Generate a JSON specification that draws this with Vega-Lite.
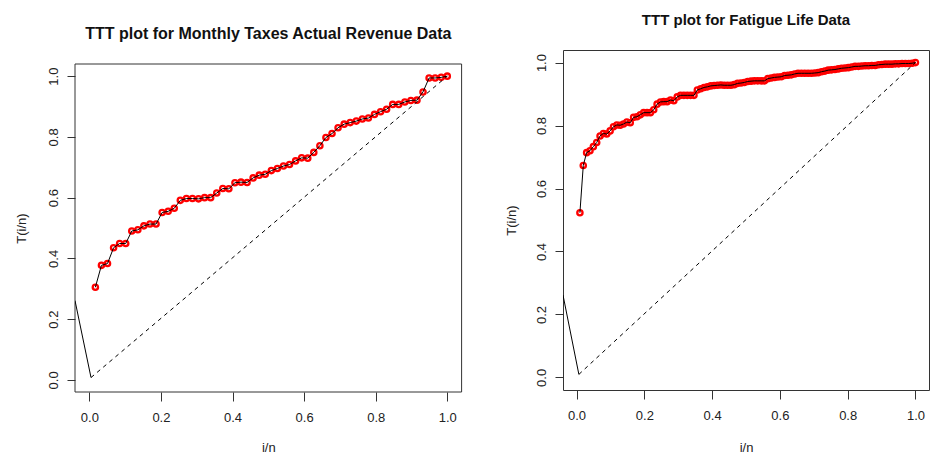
{
  "$schema": "https://vega.github.io/schema/vega-lite/v6.json",
  "padding": {"left": 15, "top": 12, "right": 0, "bottom": 0},
  "spacing": 42,
  "background": "white",
  "config": {
    "font": "Liberation Sans",
    "view": {"stroke": "#333333", "strokeWidth": 1},
    "axis": {
      "domain": false, "grid": false, "tickColor": "#333333", "tickWidth": 1,
      "labelFont": "Liberation Sans", "labelFontSize": 13, "labelColor": "#222222",
      "titleFont": "Liberation Sans", "titleFontSize": 13, "titleFontWeight": "normal", "titleColor": "#222222",
      "labelOverlap": false, "labelFlush": false
    },
    "axisX": {"tickSize": 9, "labelPadding": 10.5},
    "axisY": {"tickSize": 8, "labelPadding": 7, "labelAngle": -90, "labelAlign": "center", "labelBaseline": "bottom"},
    "title": {"font": "Liberation Sans", "fontWeight": "bold", "color": "#111111", "anchor": "middle"}
  },
  "datasets": {
    "taxes": [
      {"x": 0.0169, "y": 0.305}, {"x": 0.0339, "y": 0.377}, {"x": 0.0508, "y": 0.383}, {"x": 0.0678, "y": 0.435},
      {"x": 0.0847, "y": 0.449}, {"x": 0.1017, "y": 0.449}, {"x": 0.1186, "y": 0.490}, {"x": 0.1356, "y": 0.494},
      {"x": 0.1525, "y": 0.507}, {"x": 0.1695, "y": 0.513}, {"x": 0.1864, "y": 0.513}, {"x": 0.2034, "y": 0.551},
      {"x": 0.2203, "y": 0.555}, {"x": 0.2373, "y": 0.565}, {"x": 0.2542, "y": 0.591}, {"x": 0.2712, "y": 0.597},
      {"x": 0.2881, "y": 0.597}, {"x": 0.3051, "y": 0.596}, {"x": 0.3220, "y": 0.600}, {"x": 0.3390, "y": 0.600},
      {"x": 0.3559, "y": 0.615}, {"x": 0.3729, "y": 0.630}, {"x": 0.3898, "y": 0.629}, {"x": 0.4068, "y": 0.649},
      {"x": 0.4237, "y": 0.651}, {"x": 0.4407, "y": 0.650}, {"x": 0.4576, "y": 0.665}, {"x": 0.4746, "y": 0.674},
      {"x": 0.4915, "y": 0.677}, {"x": 0.5085, "y": 0.689}, {"x": 0.5254, "y": 0.696}, {"x": 0.5424, "y": 0.704},
      {"x": 0.5593, "y": 0.709}, {"x": 0.5763, "y": 0.721}, {"x": 0.5932, "y": 0.731}, {"x": 0.6102, "y": 0.730},
      {"x": 0.6271, "y": 0.749}, {"x": 0.6441, "y": 0.771}, {"x": 0.6610, "y": 0.798}, {"x": 0.6780, "y": 0.811},
      {"x": 0.6949, "y": 0.830}, {"x": 0.7119, "y": 0.842}, {"x": 0.7288, "y": 0.847}, {"x": 0.7458, "y": 0.852},
      {"x": 0.7627, "y": 0.859}, {"x": 0.7797, "y": 0.862}, {"x": 0.7966, "y": 0.874}, {"x": 0.8136, "y": 0.883},
      {"x": 0.8305, "y": 0.891}, {"x": 0.8475, "y": 0.907}, {"x": 0.8644, "y": 0.907}, {"x": 0.8814, "y": 0.915},
      {"x": 0.8983, "y": 0.920}, {"x": 0.9153, "y": 0.921}, {"x": 0.9322, "y": 0.948}, {"x": 0.9492, "y": 0.994},
      {"x": 0.9661, "y": 0.994}, {"x": 0.9831, "y": 0.996}, {"x": 1.0000, "y": 1.000}
    ],
    "fatigue": [
      {"x": 0.0099, "y": 0.523}, {"x": 0.0198, "y": 0.673}, {"x": 0.0297, "y": 0.714}, {"x": 0.0396, "y": 0.720},
      {"x": 0.0495, "y": 0.733}, {"x": 0.0594, "y": 0.746}, {"x": 0.0693, "y": 0.767}, {"x": 0.0792, "y": 0.775},
      {"x": 0.0891, "y": 0.773}, {"x": 0.0990, "y": 0.783}, {"x": 0.1089, "y": 0.796}, {"x": 0.1188, "y": 0.802},
      {"x": 0.1287, "y": 0.801}, {"x": 0.1386, "y": 0.805}, {"x": 0.1485, "y": 0.811}, {"x": 0.1584, "y": 0.809},
      {"x": 0.1683, "y": 0.826}, {"x": 0.1782, "y": 0.828}, {"x": 0.1881, "y": 0.834}, {"x": 0.1980, "y": 0.841},
      {"x": 0.2079, "y": 0.841}, {"x": 0.2178, "y": 0.841}, {"x": 0.2277, "y": 0.850}, {"x": 0.2376, "y": 0.868},
      {"x": 0.2475, "y": 0.875}, {"x": 0.2574, "y": 0.876}, {"x": 0.2673, "y": 0.876}, {"x": 0.2772, "y": 0.881},
      {"x": 0.2871, "y": 0.879}, {"x": 0.2970, "y": 0.891}, {"x": 0.3069, "y": 0.896}, {"x": 0.3168, "y": 0.896},
      {"x": 0.3267, "y": 0.896}, {"x": 0.3366, "y": 0.896}, {"x": 0.3465, "y": 0.896}, {"x": 0.3564, "y": 0.913},
      {"x": 0.3663, "y": 0.917}, {"x": 0.3762, "y": 0.921}, {"x": 0.3861, "y": 0.923}, {"x": 0.3960, "y": 0.926},
      {"x": 0.4059, "y": 0.927}, {"x": 0.4158, "y": 0.928}, {"x": 0.4257, "y": 0.929}, {"x": 0.4356, "y": 0.928},
      {"x": 0.4455, "y": 0.928}, {"x": 0.4554, "y": 0.928}, {"x": 0.4653, "y": 0.930}, {"x": 0.4752, "y": 0.934},
      {"x": 0.4851, "y": 0.935}, {"x": 0.4950, "y": 0.937}, {"x": 0.5050, "y": 0.940}, {"x": 0.5149, "y": 0.941},
      {"x": 0.5248, "y": 0.942}, {"x": 0.5347, "y": 0.942}, {"x": 0.5446, "y": 0.942}, {"x": 0.5545, "y": 0.942},
      {"x": 0.5644, "y": 0.949}, {"x": 0.5743, "y": 0.951}, {"x": 0.5842, "y": 0.953}, {"x": 0.5941, "y": 0.954},
      {"x": 0.6040, "y": 0.955}, {"x": 0.6139, "y": 0.959}, {"x": 0.6238, "y": 0.960}, {"x": 0.6337, "y": 0.961},
      {"x": 0.6436, "y": 0.964}, {"x": 0.6535, "y": 0.966}, {"x": 0.6634, "y": 0.966}, {"x": 0.6733, "y": 0.966},
      {"x": 0.6832, "y": 0.966}, {"x": 0.6931, "y": 0.966}, {"x": 0.7030, "y": 0.967}, {"x": 0.7129, "y": 0.968},
      {"x": 0.7228, "y": 0.971}, {"x": 0.7327, "y": 0.973}, {"x": 0.7426, "y": 0.976}, {"x": 0.7525, "y": 0.977},
      {"x": 0.7624, "y": 0.978}, {"x": 0.7723, "y": 0.980}, {"x": 0.7822, "y": 0.982}, {"x": 0.7921, "y": 0.983},
      {"x": 0.8020, "y": 0.984}, {"x": 0.8119, "y": 0.986}, {"x": 0.8218, "y": 0.988}, {"x": 0.8317, "y": 0.988},
      {"x": 0.8416, "y": 0.989}, {"x": 0.8515, "y": 0.990}, {"x": 0.8614, "y": 0.990}, {"x": 0.8713, "y": 0.991},
      {"x": 0.8812, "y": 0.991}, {"x": 0.8911, "y": 0.993}, {"x": 0.9010, "y": 0.994}, {"x": 0.9109, "y": 0.995},
      {"x": 0.9208, "y": 0.995}, {"x": 0.9307, "y": 0.995}, {"x": 0.9406, "y": 0.996}, {"x": 0.9505, "y": 0.996},
      {"x": 0.9604, "y": 0.997}, {"x": 0.9703, "y": 0.997}, {"x": 0.9802, "y": 0.997}, {"x": 0.9901, "y": 0.998},
      {"x": 1.0000, "y": 1.000}
    ],
    "taxesTail": [{"x": -0.04, "y": 0.261}, {"x": 0.0047, "y": 0.0076}],
    "taxesDiag": [{"x": 0.0047, "y": 0.0076}, {"x": 1.0, "y": 1.0}],
    "fatigueTail": [{"x": -0.04, "y": 0.2615}, {"x": 0.0068, "y": 0.0095}],
    "fatigueDiag": [{"x": 0.0068, "y": 0.0095}, {"x": 1.0, "y": 1.0}],
    "plotBox": [{"part": "box"}]
  },
  "hconcat": [
    {
      "width": 386.6,
      "height": 342,
      "view": {"stroke": null},
      "title": {"text": "TTT plot for Monthly Taxes Actual Revenue Data", "fontSize": 16, "offset": 8},
      "layer": [
        {"data": {"name": "plotBox"},
         "mark": {"type": "rect", "fill": "transparent", "stroke": "#333333", "strokeWidth": 1},
         "encoding": {
           "x": {"datum": -0.04, "type": "quantitative", "scale": {"domain": [-0.04, 1.04], "nice": false, "zero": false}, "axis": {"title": "i/n", "titlePadding": 16.5, "values": [0, 0.2, 0.4, 0.6, 0.8, 1], "format": ".1f"}},
           "x2": {"datum": 1.04},
           "y": {"datum": -0.04, "type": "quantitative", "scale": {"domain": [-0.04, 1.0861], "nice": false, "zero": false}, "axis": {"title": "T(i/n)", "titlePadding": 19, "titleY": 178, "values": [0, 0.2, 0.4, 0.6, 0.8, 1], "format": ".1f"}},
           "y2": {"datum": 1.04}
         }},
        {"data": {"name": "taxes"}, "mark": {"type": "point", "shape": "circle", "filled": false, "color": "#ff0000", "strokeWidth": 2.3, "size": 28, "opacity": 1},
         "encoding": {"x": {"field": "x", "type": "quantitative"}, "y": {"field": "y", "type": "quantitative"}}},
        {"data": {"name": "taxes"}, "mark": {"type": "line", "color": "#000000", "strokeWidth": 1},
         "encoding": {"x": {"field": "x", "type": "quantitative"}, "y": {"field": "y", "type": "quantitative"}}},
        {"data": {"name": "taxesTail"}, "mark": {"type": "line", "color": "#000000", "strokeWidth": 1, "clip": true},
         "encoding": {"x": {"field": "x", "type": "quantitative"}, "y": {"field": "y", "type": "quantitative"}}},
        {"data": {"name": "taxesDiag"}, "mark": {"type": "line", "color": "#000000", "strokeWidth": 1, "strokeDash": [4, 4]},
         "encoding": {"x": {"field": "x", "type": "quantitative"}, "y": {"field": "y", "type": "quantitative"}}}
      ]
    },
    {
      "width": 366,
      "height": 340,
      "title": {"text": "TTT plot for Fatigue Life Data", "fontSize": 15, "offset": 22.5},
      "encoding": {
        "x": {"field": "x", "type": "quantitative", "scale": {"domain": [-0.04, 1.04], "nice": false, "zero": false}, "axis": {"title": "i/n", "titlePadding": 18.5, "values": [0, 0.2, 0.4, 0.6, 0.8, 1], "format": ".1f"}},
        "y": {"field": "y", "type": "quantitative", "scale": {"domain": [-0.04, 1.04], "nice": false, "zero": false}, "axis": {"title": "T(i/n)", "titlePadding": 16.5, "values": [0, 0.2, 0.4, 0.6, 0.8, 1], "format": ".1f"}}
      },
      "layer": [
        {"data": {"name": "fatigue"}, "mark": {"type": "point", "shape": "circle", "filled": false, "color": "#ff0000", "strokeWidth": 2.3, "size": 28, "opacity": 1}},
        {"data": {"name": "fatigue"}, "mark": {"type": "line", "color": "#000000", "strokeWidth": 1}},
        {"data": {"name": "fatigueTail"}, "mark": {"type": "line", "color": "#000000", "strokeWidth": 1, "clip": true}},
        {"data": {"name": "fatigueDiag"}, "mark": {"type": "line", "color": "#000000", "strokeWidth": 1, "strokeDash": [4, 4]}}
      ]
    }
  ]
}
